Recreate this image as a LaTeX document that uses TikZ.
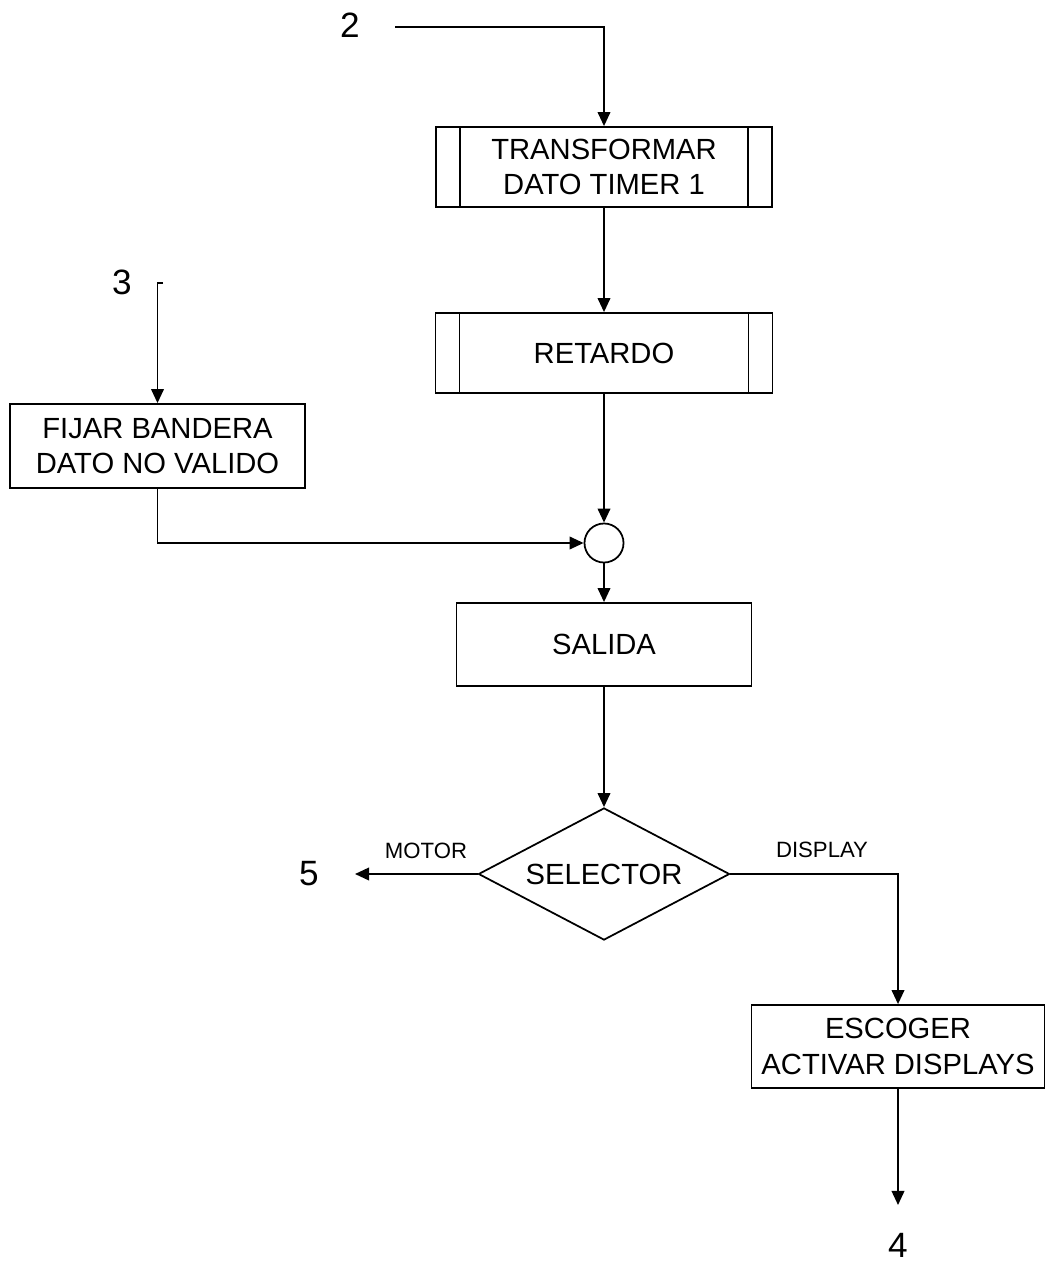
\documentclass[tikz,border=0pt]{standalone}
\usepackage{fontspec}
\setmainfont{Liberation Sans}
\usetikzlibrary{shapes.geometric,arrows.meta}

\begin{document}
\begin{tikzpicture}[x=0.01cm, y=-0.01cm, line width=0.5pt,
  caja/.style={draw, minimum width=2.95cm, minimum height=0.83cm, inner sep=0pt,
    align=center, font=\fontsize{8.3}{10}\selectfont},
  flecha/.style={-{Triangle[length=4pt,width=3.6pt]}},
  numero/.style={font=\fontsize{10}{12}\selectfont},
  rotulo/.style={font=\fontsize{6.3}{8}\selectfont}]
  \useasboundingbox (0,0) rectangle (1046,1261);
  % blocks
  \node[caja, minimum width=3.36cm, minimum height=0.80cm] (trans) at (604,167) {TRANSFORMAR\\DATO TIMER 1};
  \node[caja, minimum width=3.37cm, minimum height=0.80cm] (ret) at (604,353) {RETARDO};
  \node[caja, minimum height=0.84cm] (fijar) at (157.5,446) {FIJAR BANDERA\\DATO NO VALIDO};
  \node[draw, circle, minimum size=0.39cm, inner sep=0pt] (union) at (604,543) {};
  \node[caja] (sal) at (604,644.5) {SALIDA};
  \node[draw, diamond, aspect=1.9, minimum width=2.51cm, minimum height=1.32cm, inner sep=0pt,
    font=\fontsize{8.3}{10}\selectfont] (sel) at (604,874) {SELECTOR};
  \node[caja, minimum width=2.93cm] (esc) at (898,1046.5) {ESCOGER\\ACTIVAR DISPLAYS};
  % subroutine side bars
  \foreach \b in {trans,ret} {
    \draw ([xshift=0.25cm]\b.north west) -- ([xshift=0.25cm]\b.south west);
    \draw ([xshift=-0.25cm]\b.north east) -- ([xshift=-0.25cm]\b.south east);
  }
  % connectors
  \node[numero] (n2) at (350,25) {2};
  \node[numero] (n3) at (122,282) {3};
  \node[numero] (n5) at (309,874) {5};
  \node[numero] (n4) at (898,1245) {4};
  \coordinate (c2) at (395,27);
  \coordinate (c3) at (163,283);
  \coordinate (c5) at (355,874);
  \coordinate (c4) at (898,1205);
  \draw[flecha] (c2) -| (trans.north);
  \draw[flecha] (trans.south) -- (ret.north);
  \draw[flecha] (c3) -| (fijar.north);
  \draw[flecha] (ret.south) -- (union.north);
  \draw[flecha] (fijar.south) |- (union.west);
  \draw[flecha] (union.south) -- (sal.north);
  \draw[flecha] (sal.south) -- (sel.north);
  \draw[flecha] (sel.west) -- (c5);
  \draw[flecha] (sel.east) -| (esc.north);
  \draw[flecha] (esc.south) -- (c4);
  % branch labels
  \node[rotulo] (motor) at (426,851) {MOTOR};
  \node[rotulo] (disp) at (822,850) {DISPLAY};
\end{tikzpicture}
\end{document}
